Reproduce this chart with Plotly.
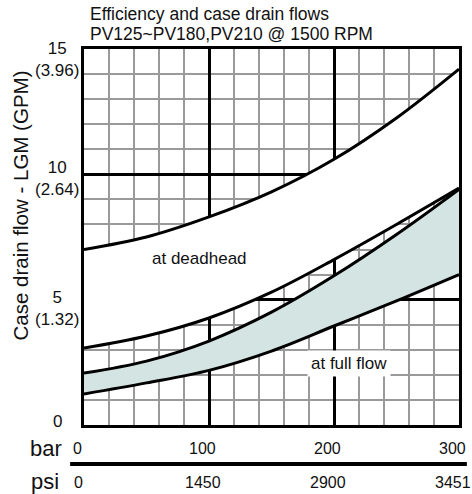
import plotly.graph_objects as go

# ---- data ----
pressure_bar = [0, 50, 100, 150, 200, 250, 300]
deadhead_upper = [7.0, 7.5, 8.3, 9.3, 10.6, 12.25, 14.2]
deadhead_lower = [3.07, 3.55, 4.27, 5.3, 6.6, 8.0, 9.45]
fullflow_upper = [2.07, 2.55, 3.35, 4.5, 5.95, 7.6, 9.4]
fullflow_lower = [1.24, 1.68, 2.18, 2.95, 3.95, 4.95, 6.0]

bar_ticks = [0, 100, 200, 300]
bar_labels = ["0", "100", "200", "300"]
psi_labels = ["0", "1450", "2900", "3451"]

y_ticks = [0, 5, 10, 15]
y_labels = ["0", "5<br>(1.32)", "10<br>(2.64)", "15<br>(3.96)"]

title_lines = ["Efficiency and case drain flows", "PV125~PV180,PV210 @ 1500 RPM"]

FONT = "Liberation Sans, Arial, sans-serif"
TEAL = "#d4e4e2"
GRID = "#9a9a9a"

fig = go.Figure()

# white area between the deadhead curves (hides the grid)
fig.add_trace(go.Scatter(x=pressure_bar, y=deadhead_lower, mode="lines",
                         line=dict(width=0, shape="spline"), hoverinfo="skip", showlegend=False))
fig.add_trace(go.Scatter(x=pressure_bar, y=deadhead_upper, mode="lines", fill="tonexty",
                         fillcolor="white", line=dict(width=0, shape="spline"),
                         hoverinfo="skip", showlegend=False))
# shaded band for full flow
fig.add_trace(go.Scatter(x=pressure_bar, y=fullflow_lower, mode="lines",
                         line=dict(width=0, shape="spline"), hoverinfo="skip", showlegend=False))
fig.add_trace(go.Scatter(x=pressure_bar, y=fullflow_upper, mode="lines", fill="tonexty",
                         fillcolor=TEAL, line=dict(width=0, shape="spline"),
                         hoverinfo="skip", showlegend=False))
# black curves
for ys in (deadhead_upper, deadhead_lower, fullflow_upper, fullflow_lower):
    fig.add_trace(go.Scatter(x=pressure_bar, y=ys, mode="lines",
                             line=dict(color="black", width=3, shape="spline"),
                             showlegend=False))

annotations = []
# title
for i, t in enumerate(title_lines):
    annotations.append(dict(text=t, xref="paper", yref="paper", x=(88 - 84) / 378,
                            y=1, yshift=23 - 20 * i, xanchor="left", yanchor="bottom",
                            showarrow=False, font=dict(family=FONT, size=17.5, color="#111")))
# y tick labels
y_shifts = [4, -9, -4, -10]
for v, lab, s in zip(y_ticks, y_labels, y_shifts):
    annotations.append(dict(text=lab, xref="paper", yref="y", x=-27 / 378, y=v, yshift=s,
                            xanchor="center", yanchor="middle", align="center",
                            showarrow=False, font=dict(family=FONT, size=17, color="#111")))
# y axis title
annotations.append(dict(text="Case drain flow - LGM (GPM)", xref="paper", yref="paper",
                        x=-64 / 378, y=(425 - 206) / 376, textangle=-90,
                        xanchor="center", yanchor="middle", showarrow=False,
                        font=dict(family=FONT, size=20.5, color="#111")))
# bar / psi rows
annotations.append(dict(text="bar", xref="paper", yref="paper", x=-20 / 378, y=-23 / 376,
                        xanchor="right", yanchor="middle", showarrow=False,
                        font=dict(family=FONT, size=22, color="#111")))
annotations.append(dict(text="psi", xref="paper", yref="paper", x=-23 / 378, y=-56 / 376,
                        xanchor="right", yanchor="middle", showarrow=False,
                        font=dict(family=FONT, size=22, color="#111")))
for v, b, p in zip(bar_ticks, bar_labels, psi_labels):
    annotations.append(dict(text=b, xref="x", yref="paper", x=v, y=-23 / 376, xshift=-7,
                            xanchor="center", yanchor="middle", showarrow=False,
                            font=dict(family=FONT, size=16, color="#111")))
    annotations.append(dict(text=p, xref="x", yref="paper", x=v, y=-57 / 376, xshift=-6,
                            xanchor="center", yanchor="middle", showarrow=False,
                            font=dict(family=FONT, size=16, color="#111")))
# curve labels
annotations.append(dict(text="at deadhead", x=92, y=6.66, xref="x", yref="y", showarrow=False,
                        font=dict(family=FONT, size=17, color="#111")))
annotations.append(dict(text="at full flow", x=212, y=2.45, xref="x", yref="y", showarrow=False,
                        bgcolor="white", borderpad=3,
                        font=dict(family=FONT, size=17, color="#111")))

fig.update_layout(
    width=472, height=494, autosize=False,
    margin=dict(l=84, r=10, t=49, b=69),
    paper_bgcolor="white", plot_bgcolor="white",
    annotations=annotations,
    shapes=[dict(type="line", xref="paper", yref="paper", x0=-14 / 378, x1=1.021,
                 y0=-39 / 376, y1=-39 / 376, line=dict(color="black", width=4))],
)
fig.update_xaxes(range=[0, 300], tickmode="linear", tick0=0, dtick=100, showticklabels=False,
                 ticks="", showgrid=True, gridcolor="black", gridwidth=3, zeroline=False,
                 showline=True, linecolor="black", linewidth=3, mirror=True,
                 minor=dict(dtick=20, tick0=0, showgrid=True, gridcolor=GRID, gridwidth=2, ticks=""))
fig.update_yaxes(range=[0, 15], tickmode="linear", tick0=0, dtick=5, showticklabels=False,
                 ticks="", showgrid=True, gridcolor="black", gridwidth=3, zeroline=False,
                 showline=True, linecolor="black", linewidth=3, mirror=True,
                 minor=dict(dtick=1, tick0=0, showgrid=True, gridcolor=GRID, gridwidth=2, ticks=""))

fig.write_html("out.html", config={"displayModeBar": False},
               post_script="document.body.style.margin='0';document.body.style.overflow='hidden';")
